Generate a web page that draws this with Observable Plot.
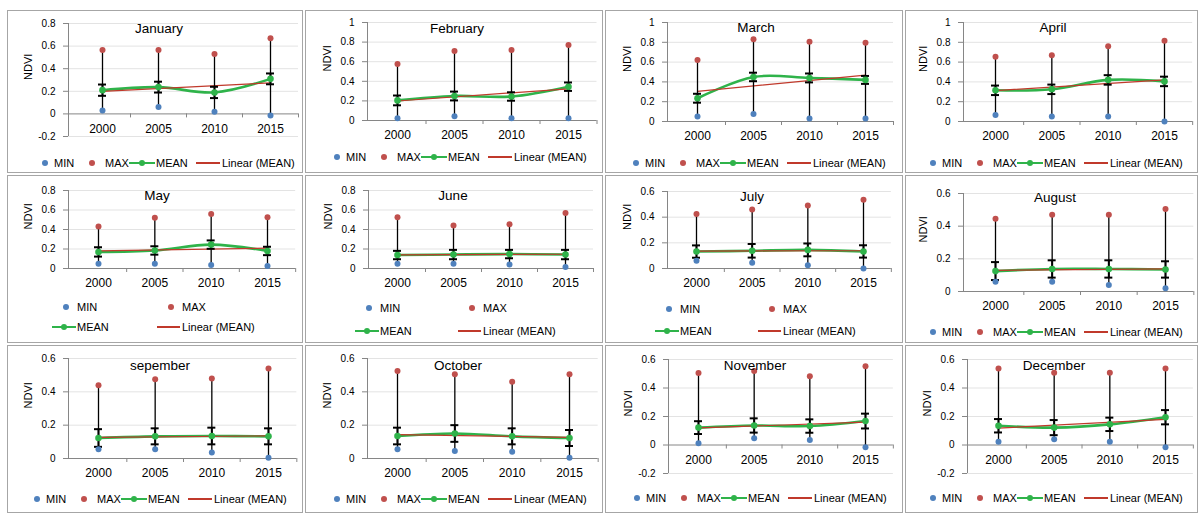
<!DOCTYPE html>
<html><head><meta charset="utf-8">
<script src="https://cdn.jsdelivr.net/npm/d3@7"></script>
<script src="https://cdn.jsdelivr.net/npm/@observablehq/plot@0.6"></script>
<style>
html,body{margin:0;padding:0;background:#fff;}
#root{position:relative;width:1200px;height:515px;overflow:hidden;font-family:"Liberation Sans",Arial,sans-serif;}
.panel{position:absolute;border:1px solid #a6a6a6;box-sizing:border-box;}
.abs{position:absolute;white-space:nowrap;}
.ttl{font-size:13.5px;transform:translate(-50%,-50%);color:#000;}
.lg{font-size:11px;line-height:14px;color:#000;}
svg{position:absolute;}
</style></head><body><div id="root"></div>
<script>
// ---------- DATA ----------
const months = ["January","February","March","April","May","June","July","August","sepember","October","November","December"];
const years = [2000, 2005, 2010, 2015];
const legendLabels = ["MIN", "MAX", "MEAN", "Linear (MEAN)"];
const yLabel = "NDVI";
const minVals = [
  [0.03, 0.06, 0.02, -0.015],
  [0.024, 0.044, 0.024, 0.024],
  [0.05, 0.075, 0.03, 0.03],
  [0.065, 0.05, 0.05, 0.0],
  [0.05, 0.05, 0.035, 0.025],
  [0.05, 0.05, 0.04, 0.015],
  [0.06, 0.045, 0.025, 0.0],
  [0.06, 0.06, 0.04, 0.02],
  [0.055, 0.055, 0.036, 0.005],
  [0.055, 0.045, 0.04, 0.005],
  [0.012, 0.047, 0.035, -0.016],
  [0.023, 0.04, 0.023, -0.016]
];
const maxVals = [
  [0.565, 0.565, 0.53, 0.67],
  [0.576, 0.71, 0.72, 0.77],
  [0.62, 0.83, 0.805, 0.795],
  [0.655, 0.67, 0.76, 0.815],
  [0.43, 0.52, 0.56, 0.525],
  [0.525, 0.44, 0.455, 0.57],
  [0.425, 0.46, 0.49, 0.535],
  [0.445, 0.47, 0.47, 0.505],
  [0.44, 0.475, 0.48, 0.54],
  [0.525, 0.505, 0.46, 0.505],
  [0.505, 0.52, 0.483, 0.553],
  [0.537, 0.507, 0.507, 0.537]
];
const meanVals = [
  [0.21, 0.237, 0.19, 0.31],
  [0.205, 0.25, 0.245, 0.345],
  [0.235, 0.45, 0.44, 0.42],
  [0.315, 0.325, 0.42, 0.405],
  [0.17, 0.185, 0.245, 0.18],
  [0.138, 0.143, 0.148, 0.143],
  [0.132, 0.138, 0.145, 0.133],
  [0.125, 0.138, 0.138, 0.135],
  [0.123, 0.133, 0.135, 0.133],
  [0.135, 0.15, 0.133, 0.123],
  [0.122, 0.137, 0.133, 0.168],
  [0.135, 0.122, 0.145, 0.195]
];
const sdVals = [
  [0.05, 0.048, 0.05, 0.048],
  [0.05, 0.045, 0.043, 0.043],
  [0.045, 0.043, 0.045, 0.04],
  [0.048, 0.048, 0.048, 0.048],
  [0.048, 0.043, 0.043, 0.043],
  [0.043, 0.048, 0.043, 0.048],
  [0.048, 0.053, 0.05, 0.048],
  [0.055, 0.053, 0.053, 0.05],
  [0.053, 0.048, 0.05, 0.048],
  [0.05, 0.05, 0.048, 0.048],
  [0.045, 0.05, 0.047, 0.052],
  [0.047, 0.053, 0.047, 0.05]
];
// y-axis tick values per panel (first = bottom, last = top of axis)
const yTicks = [
  [-0.2, 0, 0.2, 0.4, 0.6, 0.8],
  [0, 0.2, 0.4, 0.6, 0.8, 1],
  [0, 0.2, 0.4, 0.6, 0.8, 1],
  [0, 0.2, 0.4, 0.6, 0.8, 1],
  [0, 0.2, 0.4, 0.6, 0.8],
  [0, 0.2, 0.4, 0.6, 0.8],
  [0, 0.2, 0.4, 0.6],
  [0, 0.2, 0.4, 0.6],
  [0, 0.2, 0.4, 0.6],
  [0, 0.2, 0.4, 0.6],
  [-0.2, 0, 0.2, 0.4, 0.6],
  [-0.2, 0, 0.2, 0.4, 0.6]
];
const yTickLabels = ticks => ticks.map(t => t === 0 ? "0" : (t < 0 ? "-" : "") + (Math.abs(t) === 1 ? "1" : Math.abs(t).toFixed(1)));

// ---------- LAYOUT (page pixels) ----------
const cols = [{left:7,w:296},{left:305,w:298},{left:605,w:298},{left:905,w:293}];
const rowsL = [{top:10,h:163},{top:175,h:168},{top:345,h:168}];
const geo = [
  {ax:68,  a:102, b:270,  yt:23,  yb:136, tx:159,  ty:28,  lg:{L:45,  y:163}},
  {ax:367, a:397, b:568,  yt:22,  yb:120, tx:457,  ty:28,  lg:{L:337, y:157}},
  {ax:667, a:697, b:865,  yt:22,  yb:121, tx:756,  ty:27,  lg:{L:636, y:163}},
  {ax:963, a:995, b:1164, yt:22,  yb:121, tx:1053, ty:27,  lg:{L:933, y:163}},
  {ax:68,  a:98,  b:267,  yt:190, yb:268, tx:157,  ty:195, lg2:{A:77,  B:182, y1:307, y2:327}},
  {ax:368, a:397, b:565,  yt:190, yb:268, tx:453,  ty:195, lg2:{A:380, B:483, y1:308, y2:331}},
  {ax:667, a:696, b:863,  yt:191, yb:268, tx:752,  ty:196, lg2:{A:680, B:783, y1:309, y2:331}},
  {ax:963, a:995, b:1165, yt:193, yb:291, tx:1055, ty:197, lg:{L:933, y:332}},
  {ax:68,  a:98,  b:268,  yt:358, yb:458, tx:160,  ty:365, lg:{L:37,  y:499}},
  {ax:367, a:397, b:569,  yt:358, yb:458, tx:458,  ty:365, lg:{L:337, y:499}},
  {ax:668, a:698, b:865,  yt:359, yb:473, tx:755,  ty:365, lg:{L:637, y:498}},
  {ax:967, a:998, b:1165, yt:359, yb:473, tx:1054, ty:365, lg:{L:933, y:498}}
];

const BLUE = "#4f81bd", RED = "#c0504d", GREEN = "#2fb34a", TREND = "#c0392b", AXIS = "#868686", GRID = "#e3e3e3";
const root = document.getElementById("root");

function el(cls, css, s) {
  const d = document.createElement("div");
  d.className = cls;
  Object.assign(d.style, css);
  if (s != null) d.textContent = s;
  root.appendChild(d);
  return d;
}
function dot(cx, cy, color, r) {
  el("abs", {left:(cx-r)+"px", top:(cy-r)+"px", width:(2*r)+"px", height:(2*r)+"px", borderRadius:"50%", background:color});
}
function hline(x1, x2, cy, color, w) {
  el("abs", {left:x1+"px", top:(cy-w/2)+"px", width:(x2-x1)+"px", height:w+"px", background:color});
}
function txt(x, cy, s) { el("abs lg", {left:x+"px", top:(cy-7)+"px"}, s); }

months.forEach((m, i) => {
  const c = cols[i % 4], r = rowsL[Math.floor(i / 4)], g = geo[i];
  el("panel", {left:c.left+"px", top:r.top+"px", width:c.w+"px", height:r.h+"px"});

  const cat = (g.b - g.a) / 3;
  const ppy = cat / 5;
  const xmin = 2000 - (g.a - g.ax) / ppy;
  const xmax = 2017.5;
  const axisEnd = g.b + cat / 2;
  const ticks = yTicks[i];
  const labels = yTickLabels(ticks);
  const y0 = ticks[0], y1 = ticks[ticks.length - 1];
  const tickRows = ticks.map((t, k) => ({t, label: labels[k]}));
  const data = years.map((yr, j) => ({year: yr, min: minVals[i][j], max: maxVals[i][j], mean: meanVals[i][j], sd: sdVals[i][j]}));
  const bounds = [2002.5, 2007.5, 2012.5, 2017.5];

  const chart = Plot.plot({
    width: c.w, height: r.h,
    marginLeft: g.ax - c.left,
    marginRight: (c.left + c.w) - axisEnd,
    marginTop: g.yt - r.top,
    marginBottom: (r.top + r.h) - g.yb,
    x: {domain: [xmin, xmax], axis: null},
    y: {domain: [y0, y1], axis: null},
    style: {fontFamily: "'Liberation Sans', Arial, sans-serif", fontSize: "10px", color: "#000", background: "transparent", overflow: "visible"},
    marks: [
      Plot.ruleY(tickRows.filter(d => d.t !== 0), {y: "t", stroke: GRID}),
      Plot.ruleX([xmin], {stroke: AXIS}),
      Plot.ruleY(tickRows, {y: "t", x1: xmin, x2: xmin, insetLeft: -5, stroke: AXIS}),
      Plot.text(tickRows, {y: "t", x: xmin, text: "label", dx: -13, textAnchor: "end", fontSize: 10}),
      Plot.ruleY([0], {stroke: AXIS}),
      Plot.ruleX(bounds, {x: d => d, y1: 0, y2: 0, insetBottom: -4, stroke: AXIS}),
      Plot.text(years, {x: d => d, y: 0, text: d => String(d), dy: 15, fontSize: 12}),
      Plot.line(data, {x: "year", y: "mean", stroke: GREEN, strokeWidth: 2.6, curve: "catmull-rom"}),
      Plot.linearRegressionY(data, {x: "year", y: "mean", stroke: TREND, strokeWidth: 1.2, ci: 0}),
      Plot.ruleX(data, {x: "year", y1: "min", y2: "max", stroke: "#000", strokeWidth: 1.3}),
      Plot.ruleX(data, {x: "year", y1: d => d.mean - d.sd, y2: d => d.mean + d.sd, stroke: "#000", strokeWidth: 2}),
      Plot.ruleY(data, {x1: "year", x2: "year", y: d => d.mean + d.sd, insetLeft: -4, insetRight: -4, stroke: "#000", strokeWidth: 2}),
      Plot.ruleY(data, {x1: "year", x2: "year", y: d => d.mean - d.sd, insetLeft: -4, insetRight: -4, stroke: "#000", strokeWidth: 2}),
      Plot.dot(data, {x: "year", y: "mean", fill: GREEN, r: 3.3}),
      Plot.dot(data, {x: "year", y: "min", fill: BLUE, r: 3}),
      Plot.dot(data, {x: "year", y: "max", fill: RED, r: 3}),
      Plot.text([yLabel], {text: d => d, frameAnchor: "left", rotate: -90, dx: -40, fontSize: 11})
    ]
  });
  chart.style.left = c.left + "px";
  chart.style.top = r.top + "px";
  root.appendChild(chart);

  el("abs ttl", {left: g.tx + "px", top: g.ty + "px"}, m);

  if (g.lg) {
    const L = g.lg.L, y = g.lg.y;
    dot(L, y, BLUE, 3); txt(L + 9, y, legendLabels[0]);
    dot(L + 47, y, RED, 3); txt(L + 60, y, legendLabels[1]);
    hline(L + 84, L + 110, y, GREEN, 2.6); dot(L + 97, y, GREEN, 3); txt(L + 111, y, legendLabels[2]);
    hline(L + 151, L + 175, y, TREND, 1.2); txt(L + 177, y, legendLabels[3]);
  } else {
    const {A, B, y1: ya, y2: yb} = g.lg2;
    dot(A - 11, ya, BLUE, 3); txt(A, ya, legendLabels[0]);
    dot(B - 11, ya, RED, 3); txt(B, ya, legendLabels[1]);
    hline(A - 25, A - 1, yb, GREEN, 2.6); dot(A - 13, yb, GREEN, 3); txt(A, yb, legendLabels[2]);
    hline(B - 25, B - 2, yb, TREND, 1.2); txt(B, yb, legendLabels[3]);
  }
});
</script></body></html>
